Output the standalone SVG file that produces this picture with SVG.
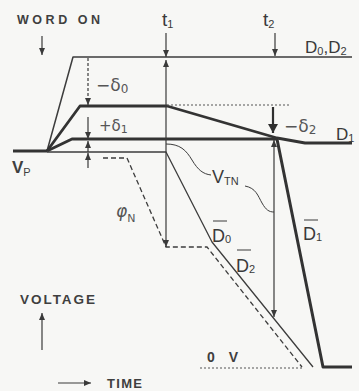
<svg xmlns="http://www.w3.org/2000/svg" width="359" height="391" viewBox="0 0 359 391">
<defs>
<marker id="ah" markerUnits="userSpaceOnUse" markerWidth="8" markerHeight="6" refX="7" refY="3" orient="auto-start-reverse"><path d="M0,0 L7,3 L0,6 z" fill="#3a3a3a"/></marker>
<marker id="ahBig" markerUnits="userSpaceOnUse" markerWidth="11" markerHeight="11" refX="9" refY="5" orient="auto"><path d="M0,0 L9,5 L0,10 z" fill="#2f2f2f"/></marker>
</defs>
<style>
.thin{fill:none;stroke:#3d3d3d;stroke-width:1.3;stroke-linejoin:round}
.thick{fill:none;stroke:#333;stroke-width:2.8;stroke-linejoin:round}
.dash{fill:none;stroke:#3d3d3d;stroke-width:1.3;stroke-dasharray:5 3}
.dot{fill:none;stroke:#555;stroke-width:1.1;stroke-dasharray:2 2}
.arr{fill:none;stroke:#3a3a3a;stroke-width:1.2;marker-end:url(#ah)}
.lbl{font-family:"Liberation Sans",Arial,sans-serif;font-weight:bold;fill:#3f3f3f}
.sym{font-family:"Liberation Sans",Arial,sans-serif;fill:#3a3a3a}
.grk{font-family:"DejaVu Sans",sans-serif;fill:#555}
.ol{stroke:#3a3a3a;stroke-width:1}
</style>
<rect width="359" height="391" fill="#f7f7f5"/>

<g id="curves">
  <polyline id="D0D2" class="thin" points="47,151 73,57 352,57" style="stroke-width:1.5"/>
  <polyline id="VP" class="thick" points="13,151 47,151"/>
  <polyline id="D1" class="thick" points="47,151 80,106 167,106 277,138 305,143 352,143"/>
  <polyline id="D1bar" class="thick" points="47,151 72,139 277,139 323,367 352,367" style="stroke-width:3"/>
  <polyline id="D0bar" class="thin" points="47,152 166,152 212,242 313,367"/>
  <polyline id="D2bar" class="dash" points="103,158 127,158 166,247 207,247 302,367"/>
  <line class="dot" x1="167" y1="105" x2="289" y2="105"/>
  <line class="dot" x1="200" y1="368" x2="302" y2="368"/>
</g>

<g id="connectors">
  <line class="arr" x1="42" y1="36" x2="42" y2="55"/>
  <line class="arr" x1="166" y1="33" x2="166" y2="57"/>
  <line class="arr" x1="166" y1="152" x2="166" y2="60"/>
  <line class="arr" x1="166" y1="152" x2="166" y2="247"/>
  <line class="arr" x1="275" y1="33" x2="275" y2="56"/>
  <line class="arr" x1="88" y1="58" x2="88" y2="105" style="stroke-dasharray:3 2"/>
  <line class="arr" x1="88" y1="117" x2="88" y2="139"/>
  <line class="arr" x1="88" y1="152" x2="88" y2="141"/>
  <line class="arr" x1="88" y1="168" x2="88" y2="153"/>
  <line x1="273" y1="107" x2="273" y2="133" stroke="#2f2f2f" stroke-width="2.2" marker-end="url(#ahBig)"/>
  <line class="arr" x1="274" y1="140" x2="274" y2="317" style="marker-start:url(#ah)"/>
  <path class="thin" d="M166,144 C180,144 186,150 192,160 S203,174 211,175" style="stroke-width:1"/>
  <path class="thin" d="M245,186 C256,188 258,196 262,203 S269,212 274,212" style="stroke-width:1"/>
  <line class="arr" x1="42" y1="350" x2="42" y2="313"/>
  <line class="arr" x1="58" y1="383" x2="91" y2="383"/>
</g>

<g id="labels">
  <text class="lbl" x="17" y="24" font-size="12.5" textLength="83" lengthAdjust="spacing">WORD ON</text>
  <text class="sym" x="162" y="26" font-size="19">t<tspan font-size="11" dy="2">1</tspan></text>
  <text class="sym" x="263" y="26" font-size="19">t<tspan font-size="11" dy="2">2</tspan></text>
  <text class="sym" x="305" y="53" font-size="17">D<tspan font-size="11" dy="2">0</tspan><tspan dy="-2">,D</tspan><tspan font-size="11" dy="2">2</tspan></text>
  <text class="sym" x="336" y="140" font-size="17">D<tspan font-size="11" dy="2">1</tspan></text>
  <text class="lbl" x="12" y="173" font-size="17">V<tspan font-size="11" dy="3" font-weight="normal">P</tspan></text>
  <text class="grk" x="96" y="91" font-size="17">−δ<tspan font-size="12" dy="2">0</tspan></text>
  <text class="grk" x="99" y="131" font-size="15">+δ<tspan font-size="11" dy="2">1</tspan></text>
  <text class="grk" x="284" y="132" font-size="17">−δ<tspan font-size="12" dy="2">2</tspan></text>
  <text class="grk" x="116" y="217" font-size="17" font-style="italic">φ<tspan font-size="11" dy="5" font-style="normal">N</tspan></text>
  <text class="sym" x="212" y="183" font-size="18">V<tspan font-size="11" dy="2">TN</tspan></text>
  <text class="sym" x="212" y="242" font-size="18">D<tspan font-size="11" dy="1">0</tspan></text>
  <line class="ol" x1="213" y1="221" x2="227" y2="221"/>
  <text class="sym" x="236" y="272" font-size="18">D<tspan font-size="11" dy="1">2</tspan></text>
  <line class="ol" x1="237" y1="250" x2="251" y2="250"/>
  <text class="sym" x="303" y="240" font-size="18">D<tspan font-size="11" dy="1">1</tspan></text>
  <line class="ol" x1="304" y1="220" x2="318" y2="220"/>
  <text class="lbl" x="20" y="304" font-size="13.5" textLength="75" lengthAdjust="spacing">VOLTAGE</text>
  <text class="lbl" x="107" y="388" font-size="13" textLength="35" lengthAdjust="spacing">TIME</text>
  <text class="lbl" x="207" y="362" font-size="14" textLength="31" lengthAdjust="spacing">0 V</text>
</g>
</svg>
